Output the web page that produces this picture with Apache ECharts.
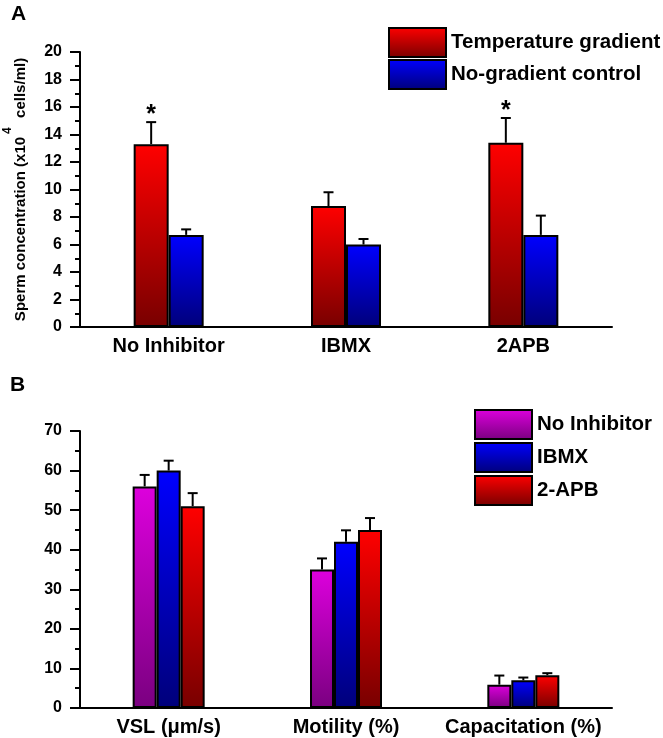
<!DOCTYPE html>
<html>
<head>
<meta charset="utf-8">
<script src="https://cdn.jsdelivr.net/npm/echarts@6/dist/echarts.min.js"></script>
<style>
html,body{margin:0;padding:0;background:#fff;}
#chart{width:663px;height:738px;}
</style>
</head>
<body>
<div id="chart"></div>
<script>
// ---------- Data ----------
var catsA = ['No Inhibitor', 'IBMX', '2APB'];
var tempGradient = [13.3, 8.8, 13.4];
var tempGradientErr = [1.6, 1.0, 1.8];
var noGradient = [6.7, 6.0, 6.7];
var noGradientErr = [0.4, 0.4, 1.4];
var sigA = ['*', '', '*'];

var catsB = ['VSL (\u03bcm/s)', 'Motility (%)', 'Capacitation (%)'];
var noInhibitor = [56, 35, 5.9];
var noInhibitorErr = [2.9, 2.8, 2.3];
var ibmx = [60, 42, 7.0];
var ibmxErr = [2.5, 2.9, 0.7];
var apb = [51, 45, 8.3];
var apbErr = [3.3, 3.0, 0.5];

// ---------- Styles ----------
var FONT = 'Liberation Sans, Arial, sans-serif';
function grad(top, bottom) {
  return new echarts.graphic.LinearGradient(0, 0, 0, 1, [
    {offset: 0, color: top}, {offset: 1, color: bottom}
  ]);
}
var RED = grad('#ff0000', '#780000');
var BLUE = grad('#0000ff', '#00007a');
var MAG = grad('#dd00dd', '#7a0080');

var BW_A = 35, BW_B = 24;

function errSeries(name, xi, yi, vals, errs, offset, sig) {
  var data = vals.map(function (v, i) { return [i, v, errs[i]]; });
  return {
    type: 'custom', name: name, xAxisIndex: xi, yAxisIndex: yi,
    data: data, z: 5, clip: false, silent: true,
    encode: {x: 0, y: 1},
    renderItem: function (params, api) {
      var c = api.value(0), v = api.value(1), e = api.value(2);
      var p0 = api.coord([c, v]);
      var p1 = api.coord([c, v + e]);
      var x = p0[0] + offset;
      var children = [
        {type: 'line', shape: {x1: x, y1: p0[1], x2: x, y2: p1[1]},
         style: {stroke: '#000', lineWidth: 2}},
        {type: 'line', shape: {x1: x - 5, y1: p1[1], x2: x + 5, y2: p1[1]},
         style: {stroke: '#000', lineWidth: 2}}
      ];
      if (sig && sig[params.dataIndex]) {
        children.push({type: 'text', style: {
          text: sig[params.dataIndex], x: x, y: p1[1] - 7,
          align: 'center', verticalAlign: 'middle',
          font: 'bold 25px ' + FONT, fill: '#000'
        }});
      }
      return {type: 'group', children: children};
    }
  };
}

function yAxisCfg(gi, max, interval) {
  return {
    type: 'value', gridIndex: gi, min: 0, max: max, interval: interval,
    axisLine: {show: true, lineStyle: {color: '#000', width: 2}},
    axisTick: {show: true, length: 10, lineStyle: {color: '#000', width: 2}},
    minorTick: {show: true, splitNumber: 2, length: 5, lineStyle: {color: '#000', width: 2}},
    splitLine: {show: false},
    axisLabel: {color: '#000', fontFamily: FONT, fontWeight: 'bold', fontSize: 16, margin: 18}
  };
}
function xAxisCfg(gi, cats) {
  return {
    type: 'category', gridIndex: gi, data: cats,
    axisLine: {show: true, lineStyle: {color: '#000', width: 2}},
    axisTick: {show: false},
    axisLabel: {color: '#000', fontFamily: FONT, fontWeight: 'bold', fontSize: 20, margin: 9, interval: 0}
  };
}

var yA = yAxisCfg(0, 20, 2);
yA.name = '{a|Sperm concentration (x10}{s|4}{a|  cells/ml)}';
yA.nameLocation = 'middle';
yA.nameRotate = 90;
yA.nameGap = 52;
yA.nameTextStyle = {
  color: '#000',
  rich: {
    a: {fontFamily: FONT, fontWeight: 'bold', fontSize: 15, lineHeight: 26, verticalAlign: 'bottom', color: '#000'},
    s: {fontFamily: FONT, fontWeight: 'bold', fontSize: 12, lineHeight: 12, verticalAlign: 'top', padding: [0, 1, 0, 3], color: '#000'}
  }
};

var barItem = function (c) { return {color: c, borderColor: '#000', borderWidth: 2}; };
var legendText = {fontFamily: FONT, fontWeight: 'bold', fontSize: 20.5, color: '#000'};

var option = {
  animation: false,
  backgroundColor: '#fff',
  grid: [
    {left: 80, right: 51, top: 52, bottom: 411, outerBoundsMode: 'none'},
    {left: 80, right: 51, top: 431, bottom: 30, outerBoundsMode: 'none'}
  ],
  xAxis: [xAxisCfg(0, catsA), xAxisCfg(1, catsB)],
  yAxis: [yA, yAxisCfg(1, 70, 10)],
  legend: [
    {data: ['Temperature gradient', 'No-gradient control'], orient: 'vertical', padding: 0,
     left: 388, top: 27, itemWidth: 57, itemHeight: 29, itemGap: 1, icon: 'rect',
     textStyle: legendText},
    {data: ['No Inhibitor', 'IBMX', '2-APB'], orient: 'vertical', padding: 0,
     left: 474, top: 409, itemWidth: 57, itemHeight: 29, itemGap: 2, icon: 'rect',
     textStyle: legendText}
  ],
  graphic: [
    {type: 'text', left: 11, top: 4, style: {text: 'A', font: 'bold 21px ' + FONT, fill: '#000'}},
    {type: 'text', left: 10, top: 375, style: {text: 'B', font: 'bold 21px ' + FONT, fill: '#000'}}
  ],
  series: [
    {type: 'bar', name: 'Temperature gradient', xAxisIndex: 0, yAxisIndex: 0, data: tempGradient,
     barWidth: BW_A, barGap: '0%', itemStyle: barItem(RED)},
    {type: 'bar', name: 'No-gradient control', xAxisIndex: 0, yAxisIndex: 0, data: noGradient,
     barWidth: BW_A, barGap: '0%', itemStyle: barItem(BLUE)},
    errSeries('errA1', 0, 0, tempGradient, tempGradientErr, -BW_A / 2, sigA),
    errSeries('errA2', 0, 0, noGradient, noGradientErr, BW_A / 2, null),
    {type: 'bar', name: 'No Inhibitor', xAxisIndex: 1, yAxisIndex: 1, data: noInhibitor,
     barWidth: BW_B, barGap: '0%', itemStyle: barItem(MAG)},
    {type: 'bar', name: 'IBMX', xAxisIndex: 1, yAxisIndex: 1, data: ibmx,
     barWidth: BW_B, barGap: '0%', itemStyle: barItem(BLUE)},
    {type: 'bar', name: '2-APB', xAxisIndex: 1, yAxisIndex: 1, data: apb,
     barWidth: BW_B, barGap: '0%', itemStyle: barItem(RED)},
    errSeries('errB1', 1, 1, noInhibitor, noInhibitorErr, -BW_B, null),
    errSeries('errB2', 1, 1, ibmx, ibmxErr, 0, null),
    errSeries('errB3', 1, 1, apb, apbErr, BW_B, null)
  ]
};

var chart = echarts.init(document.getElementById('chart'), null, {renderer: 'canvas'});
chart.setOption(option);
</script>
</body>
</html>
